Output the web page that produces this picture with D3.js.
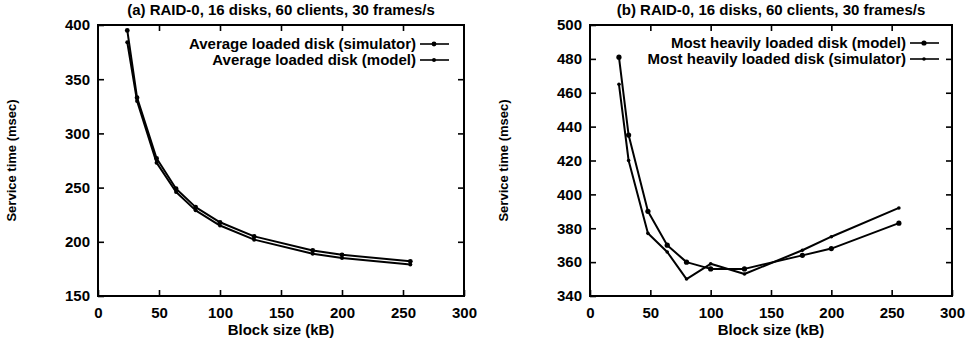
<!DOCTYPE html>
<html>
<head>
<meta charset="utf-8">
<script src="https://cdn.jsdelivr.net/npm/d3@7"></script>
<style>
  html, body { margin: 0; padding: 0; background: #fff; }
  svg text { font-family: "Liberation Sans", Arial, Helvetica, sans-serif; font-weight: bold; fill: #000; }
</style>
</head>
<body>
<svg id="chart" width="971" height="343"></svg>
<script>
// Block sizes (kB) at which the service time was measured
const blockSizes = [24, 32, 48, 64, 80, 100, 128, 176, 200, 256];

// Panel (a): average loaded disk
const avgSimulator = [395, 333, 277, 249, 232, 218, 205, 192, 188, 182];
const avgModel     = [384, 330, 273, 246, 229, 215, 202, 189, 185, 179];

// Panel (b): most heavily loaded disk
const maxModel     = [481, 435, 390, 370, 360, 356, 356, 364, 368, 383];
const maxSimulator = [465, 420, 377, 366, 350, 359, 353, 367, 375, 392];

const xTicks  = [0, 50, 100, 150, 200, 250, 300];
const yTicksA = [150, 200, 250, 300, 350, 400];
const yTicksB = [340, 360, 380, 400, 420, 440, 460, 480, 500];

const titleA = "(a) RAID-0, 16 disks, 60 clients, 30 frames/s";
const titleB = "(b) RAID-0, 16 disks, 60 clients, 30 frames/s";
const xLabel = "Block size (kB)";
const yLabel = "Service time (msec)";

const svg = d3.select("#chart");
const FONT = "15px";

function drawPanel(opt) {
  const g = svg.append("g");
  const x = d3.scaleLinear().domain([0, 300]).range([opt.left, opt.right]);
  const y = d3.scaleLinear().domain(opt.yDomain).range([opt.bottom, opt.top]);
  const tick = 6;

  // inward ticks on all four sides
  g.append("g").attr("transform", `translate(0,${opt.bottom})`)
    .call(d3.axisBottom(x).tickValues(opt.xTicks).tickSizeInner(-tick).tickSizeOuter(0).tickPadding(11))
    .call(a => a.select(".domain").remove());
  g.append("g").attr("transform", `translate(0,${opt.top})`)
    .call(d3.axisTop(x).tickValues(opt.xTicks.slice(1, -1)).tickSizeInner(-tick).tickSizeOuter(0).tickFormat(""))
    .call(a => a.select(".domain").remove());
  g.append("g").attr("transform", `translate(${opt.left},0)`)
    .call(d3.axisLeft(y).tickValues(opt.yTicks).tickSizeInner(-tick).tickSizeOuter(0).tickPadding(8))
    .call(a => a.select(".domain").remove());
  g.append("g").attr("transform", `translate(${opt.right},0)`)
    .call(d3.axisRight(y).tickValues(opt.yTicks.slice(1, -1)).tickSizeInner(-tick).tickSizeOuter(0).tickFormat(""))
    .call(a => a.select(".domain").remove());

  g.selectAll(".tick line").attr("stroke", "#000").attr("stroke-width", 1.6);
  g.selectAll(".tick text").style("font-size", FONT).style("font-family", null);

  // plot frame
  g.append("rect")
    .attr("x", opt.left).attr("y", opt.top)
    .attr("width", opt.right - opt.left).attr("height", opt.bottom - opt.top)
    .attr("fill", "none").attr("stroke", "#000").attr("stroke-width", 2);

  // titles
  g.append("text").attr("x", (opt.left + opt.right) / 2).attr("y", 15)
    .attr("text-anchor", "middle").style("font-size", FONT).text(opt.title);
  g.append("text").attr("x", (opt.left + opt.right) / 2).attr("y", 335)
    .attr("text-anchor", "middle").style("font-size", FONT).text(xLabel);
  g.append("text")
    .attr("transform", `translate(${opt.left - 82},${(opt.top + opt.bottom) / 2}) rotate(-90)`)
    .attr("text-anchor", "middle").style("font-size", "13px").text(yLabel);

  const line = d3.line().x(d => x(d[0])).y(d => y(d[1]));

  opt.series.forEach((s, i) => {
    const pts = blockSizes.map((b, j) => [b, s.values[j]]);
    g.append("path").datum(pts)
      .attr("d", line).attr("fill", "none")
      .attr("stroke", "#000").attr("stroke-width", s.width).attr("stroke-linejoin", "round");
    g.selectAll(null).data(pts).enter().append("circle")
      .attr("cx", d => x(d[0])).attr("cy", d => y(d[1]))
      .attr("r", s.marker).attr("fill", "#000");

    // legend entry
    const ly = opt.legendY + i * 16;
    g.append("text").attr("x", opt.legendX).attr("y", ly + 5)
      .attr("text-anchor", "end").style("font-size", FONT).text(s.name);
    g.append("line")
      .attr("x1", opt.legendX + 4).attr("x2", opt.legendX + 33)
      .attr("y1", ly).attr("y2", ly)
      .attr("stroke", "#000").attr("stroke-width", s.width - 0.4);
    g.append("circle").attr("cx", opt.legendX + 18).attr("cy", ly)
      .attr("r", s.marker).attr("fill", "#000");
  });
}

drawPanel({
  left: 98, right: 464, top: 25, bottom: 296,
  yDomain: [150, 400], xTicks: xTicks, yTicks: yTicksA,
  title: titleA, legendX: 416, legendY: 44,
  series: [
    { name: "Average loaded disk (simulator)", values: avgSimulator, width: 2, marker: 2.4 },
    { name: "Average loaded disk (model)", values: avgModel, width: 2, marker: 2 }
  ]
});

drawPanel({
  left: 590, right: 952, top: 25, bottom: 296,
  yDomain: [340, 500], xTicks: xTicks, yTicks: yTicksB,
  title: titleB, legendX: 906, legendY: 43,
  series: [
    { name: "Most heavily loaded disk (model)", values: maxModel, width: 2, marker: 2.6 },
    { name: "Most heavily loaded disk (simulator)", values: maxSimulator, width: 2, marker: 1.8 }
  ]
});
</script>
</body>
</html>
